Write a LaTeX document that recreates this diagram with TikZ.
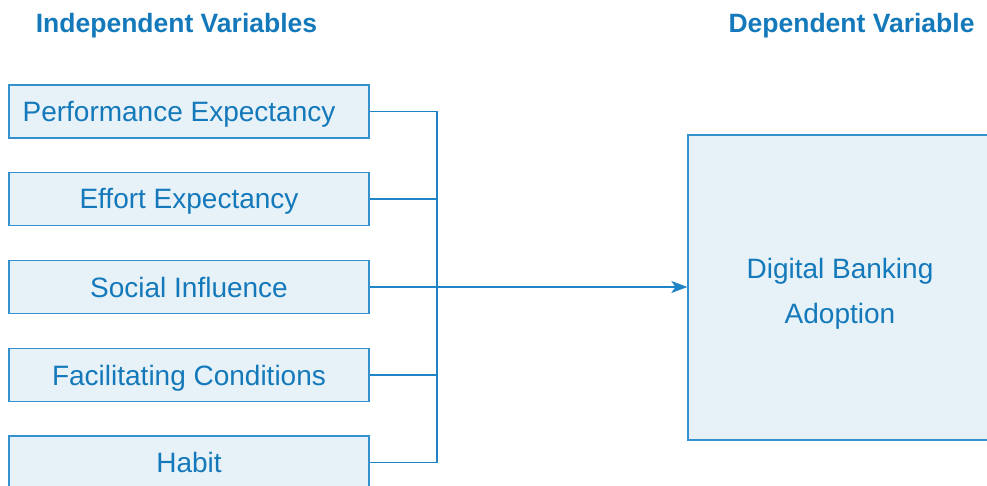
\documentclass[tikz,border=0pt]{standalone}
\usepackage{fontspec}
\setmainfont{Liberation Sans}
\usetikzlibrary{arrows.meta}
\definecolor{txtblue}{HTML}{1479BA}
\definecolor{lineblue}{HTML}{1E84C5}
\definecolor{edgeblue}{HTML}{3392CD}
\definecolor{boxfill}{HTML}{E6F1F8}
\begin{document}
\begin{tikzpicture}[x=1pt,y=-1pt,
  ivbox/.style={draw=edgeblue, fill=boxfill, line width=1.3pt, rectangle,
    minimum width=360pt, minimum height=53pt, inner sep=0pt,
    text=txtblue, font=\fontsize{28}{34}\selectfont, text height=20pt, text depth=0pt},
  dvbox/.style={draw=edgeblue, fill=boxfill, line width=1.3pt, rectangle,
    minimum width=304pt, minimum height=305pt, inner sep=0pt, align=center,
    text=txtblue, font=\fontsize{28}{45}\selectfont, text height=71pt, text depth=0pt},
  title/.style={text=txtblue, font=\fontsize{26.5}{32}\bfseries\selectfont,
    inner sep=0pt, text height=19pt, text depth=0pt},
  conn/.style={draw=lineblue, line width=1.1pt}]
\useasboundingbox (0,0) rectangle (987,486);
\clip (0,0) rectangle (987,486);
\node[title] (tiv) at (176.5,23) {Independent Variables};
\node[title] (tdv) at (851.5,23) {Dependent Variable};
\node[ivbox] (b1) at (189,111.5) {\hspace*{-20pt}Performance Expectancy};
\node[ivbox] (b2) at (189,199) {Effort Expectancy};
\node[ivbox] (b3) at (189,287) {Social Influence};
\node[ivbox] (b4) at (189,375) {Facilitating Conditions};
\node[ivbox] (b5) at (189,462.5) {Habit};
\node[dvbox] (dv) at (840,287.5) {Digital Banking\\Adoption};
\coordinate (j) at (437,287);
\draw[conn] (b1.east) -| (j);
\draw[conn] (b5.east) -| (j);
\draw[conn] (b2.east) -- (b2.east -| j);
\draw[conn] (b4.east) -- (b4.east -| j);
\draw[conn, -{Stealth[length=16pt,width=12pt,inset=4pt]}] (b3.east) -- (b3.east -| dv.west);
\end{tikzpicture}
\end{document}
